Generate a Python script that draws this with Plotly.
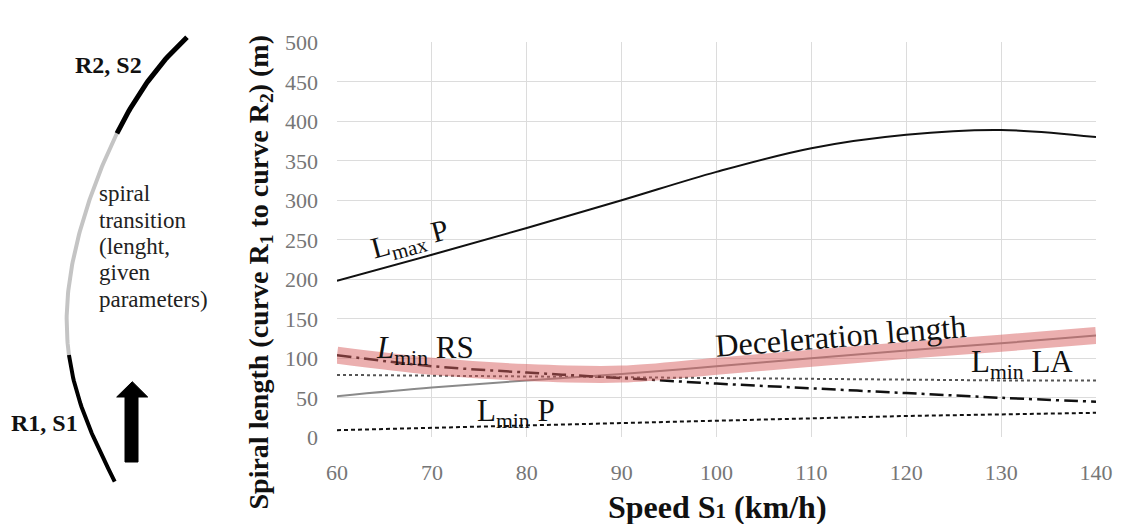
import numpy as np
import plotly.graph_objects as go

# ---------------- data ----------------
speed = [60, 70, 80, 90, 100, 110, 120, 130, 140]
lmax_p = [198, 231, 265, 300, 336, 366, 383, 389, 380]
decel_len = [52, 63, 72, 80, 90, 100, 110, 119, 129]
lmin_rs = [104, 90, 82, 75, 68, 62, 56, 50, 45]
lmin_la = [79, 78, 77, 76, 75, 74, 73, 72, 72]
lmin_p = [9, 12, 15, 18, 21, 24, 27, 29, 31]
x_ticks = [60, 70, 80, 90, 100, 110, 120, 130, 140]
y_ticks = [0, 50, 100, 150, 200, 250, 300, 350, 400, 450, 500]

# governing envelope (highlight band)
envelope = list(np.maximum(np.array(lmin_rs), np.array(decel_len)))

# ---------------- schematic (left sketch, pixel units) ----------------
arc_pts_x = [186.7, 150, 115, 93.3, 71.7, 66.7, 67, 68.3, 81.7, 96.7, 115]
arc_pts_y = [37.3, 80, 133.3, 193.3, 270, 293, 320, 355, 403, 446.7, 481.7]
arc_split_top = 133.3   # black above this
arc_split_bot = 355     # black below this
arrow_x = [125, 138, 138, 147.7, 132.3, 116.7, 125, 125]
arrow_y = [462, 462, 397, 397, 381.7, 397, 397, 462]
spiral_lines = ["spiral", "transition", "(lenght,", "given", "parameters)"]
spiral_line_y = [193, 220, 246, 272, 299]

SERIF = "Liberation Serif, Times New Roman, serif"

# smooth arc through the sketch points
coef = np.polyfit(arc_pts_y, arc_pts_x, 5)
yy_top = np.linspace(arc_pts_y[0], arc_split_top, 40)
yy_mid = np.linspace(arc_split_top, arc_split_bot, 80)
yy_bot = np.linspace(arc_split_bot, arc_pts_y[-1], 40)

fig = go.Figure()

# main chart lines
fig.add_trace(go.Scatter(x=speed, y=lmax_p, mode="lines", line=dict(color="#111111", width=2, shape="spline"),
                         name="Lmax P"))
fig.add_trace(go.Scatter(x=speed, y=lmin_la, mode="lines", line=dict(color="#555555", width=2, dash="dot"),
                         name="Lmin LA"))
fig.add_trace(go.Scatter(x=speed, y=lmin_p, mode="lines", line=dict(color="#111111", width=2, dash="4px,3px"),
                         name="Lmin P"))
fig.add_trace(go.Scatter(x=speed, y=decel_len, mode="lines", line=dict(color="#8a8a8a", width=2, shape="spline"),
                         name="Deceleration length"))
fig.add_trace(go.Scatter(x=speed, y=lmin_rs, mode="lines",
                         line=dict(color="#111111", width=2.5, dash="14px,5px,3px,5px", shape="spline"),
                         name="Lmin RS"))
fig.add_trace(go.Scatter(x=speed, y=envelope, mode="lines",
                         line=dict(color="rgba(215,95,95,0.5)", width=17, shape="spline"),
                         name="envelope"))

# schematic traces
sk = dict(xaxis="x2", yaxis="y2", mode="lines", hoverinfo="skip")
fig.add_trace(go.Scatter(x=np.polyval(coef, yy_mid), y=yy_mid, line=dict(color="#c4c4c4", width=4), **sk))
fig.add_trace(go.Scatter(x=np.polyval(coef, yy_top), y=yy_top, line=dict(color="#000000", width=5), **sk))
fig.add_trace(go.Scatter(x=np.polyval(coef, yy_bot), y=yy_bot, line=dict(color="#000000", width=4), **sk))
fig.add_trace(go.Scatter(x=arrow_x, y=arrow_y, xaxis="x2", yaxis="y2", mode="lines", fill="toself",
                         fillcolor="#000000", line=dict(color="#000000", width=1), hoverinfo="skip"))

W, H = 1122, 524
x0, x1 = 337, 1096
yt, yb = 42.3, 437.3

fig.update_layout(
    template="none",
    width=W, height=H,
    margin=dict(l=0, r=0, t=0, b=0, pad=0),
    paper_bgcolor="white", plot_bgcolor="white",
    showlegend=False,
    font=dict(family=SERIF),
    xaxis=dict(domain=[x0 / W, x1 / W], range=[60, 140], tickvals=x_ticks, automargin=False,
               showgrid=True, gridcolor="#dcdcdc", gridwidth=1, zeroline=False, showline=False, ticks="",
               tickfont=dict(family=SERIF, size=22, color="#767676"), ticklabelstandoff=20,
               anchor="y"),
    yaxis=dict(domain=[(H - yb) / H, (H - yt) / H], range=[0, 500], tickvals=y_ticks, automargin=False,
               showgrid=True, gridcolor="#dcdcdc", gridwidth=1, zeroline=False, showline=False, ticks="",
               tickfont=dict(family=SERIF, size=22, color="#767676"), ticklabelstandoff=18,
               anchor="x"),
    xaxis2=dict(domain=[0, 0.2], range=[0, 0.2 * W], visible=False, anchor="y2", automargin=False),
    yaxis2=dict(domain=[0, 1], range=[H, 0], visible=False, anchor="x2", automargin=False),
)

ann = []
# curve labels
ann.append(dict(x=67.7, y=248, xref="x", yref="y", text="L<sub>max</sub> P", textangle=-15,
                showarrow=False, font=dict(family=SERIF, size=30, color="#111111")))
ann.append(dict(x=69.3, y=111, xref="x", yref="y", text="<i>L</i><sub>min</sub> RS",
                showarrow=False, font=dict(family=SERIF, size=31, color="#111111")))
ann.append(dict(x=113.1, y=128, xref="x", yref="y", text="Deceleration length", textangle=-4.5,
                showarrow=False, font=dict(family=SERIF, size=32, color="#111111")))
ann.append(dict(x=132.2, y=93, xref="x", yref="y", text="L<sub>min</sub> LA",
                showarrow=False, font=dict(family=SERIF, size=31, color="#111111")))
ann.append(dict(x=78.9, y=31, xref="x", yref="y", text="L<sub>min</sub> P",
                showarrow=False, font=dict(family=SERIF, size=31, color="#111111")))
# axis titles
ann.append(dict(x=717 / W, y=0, xref="paper", yref="paper", yanchor="bottom", yshift=-3,
                text="<b>Speed S<span style='font-size:21px'>1</span> (km/h)</b>", showarrow=False,
                font=dict(family=SERIF, size=32, color="#111111")))
ann.append(dict(x=240 / W, y=(H - 272) / H, xref="paper", yref="paper", textangle=-90,
                text="<b>Spiral length (curve R<sub>1</sub> to curve R<sub>2</sub>) (m)</b>", showarrow=False,
                font=dict(family=SERIF, size=28, color="#111111")))
# schematic labels
ann.append(dict(x=108.3, y=65, xref="x2", yref="y2", text="<b>R2, S2</b>", showarrow=False,
                font=dict(family=SERIF, size=24, color="#111111")))
ann.append(dict(x=44, y=423, xref="x2", yref="y2", text="<b>R1, S1</b>", showarrow=False,
                font=dict(family=SERIF, size=24, color="#111111")))
for txt, ly in zip(spiral_lines, spiral_line_y):
    ann.append(dict(x=97, y=ly, xref="x2", yref="y2", xanchor="left", align="left",
                    text=txt, showarrow=False,
                    font=dict(family=SERIF, size=23, color="#222222")))
fig.update_layout(annotations=ann)

fig.write_html("out.html", config={"displayModeBar": False},
               post_script="document.body.style.margin='0';document.body.style.overflow='hidden';")
